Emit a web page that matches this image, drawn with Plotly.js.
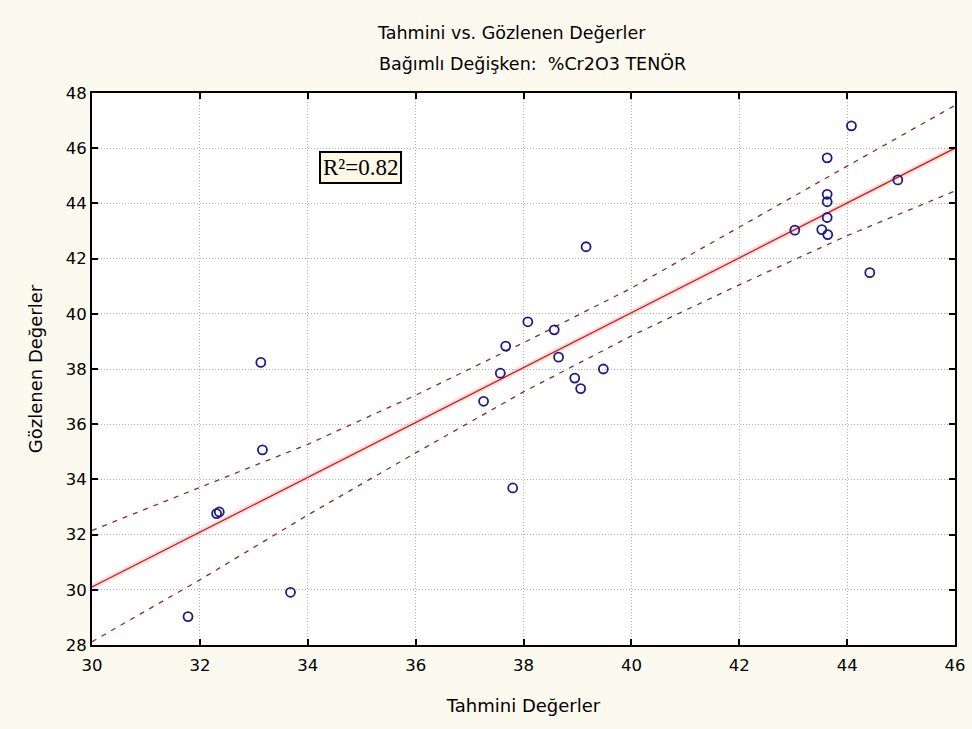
<!DOCTYPE html>
<html>
<head>
<meta charset="utf-8">
<script src="https://cdn.plot.ly/plotly-3.0.1.min.js"></script>
<style>
  html, body { margin: 0; padding: 0; background: #fcf9ee; }
  #chart { width: 972px; height: 729px; }
</style>
</head>
<body>
<div id="chart"></div>
<script>
// Observed vs predicted points
const predicted = [31.78, 32.31, 32.36, 33.13, 33.16, 33.68, 37.26, 37.57, 37.67, 37.80, 38.08, 38.57, 38.65, 38.95, 39.06, 39.16, 39.48, 43.03, 43.53, 43.63, 43.63, 43.63, 43.63, 43.64, 44.08, 44.42, 44.94];
const observed  = [29.03, 32.76, 32.82, 38.24, 35.07, 29.91, 36.83, 37.85, 38.83, 33.69, 39.71, 39.42, 38.43, 37.67, 37.29, 42.43, 38.00, 43.03, 43.05, 45.65, 44.33, 44.06, 43.49, 42.87, 46.81, 41.49, 44.85];

// Regression line (end points)
const fitX = [30, 46];
const fitY = [30.1, 46.0];

// Confidence bands read at the x gridlines
const bandX = [30, 32, 34, 36, 38, 40, 42, 44, 46];
const bandUpper = [32.15, 33.72, 35.27, 37.05, 38.95, 40.93, 43.15, 45.35, 47.55];
const bandLower = [28.12, 30.36, 32.71, 34.96, 37.17, 39.20, 41.05, 42.83, 44.45];

const titleLine1 = "Tahmini vs. Gözlenen Değerler";
const titleLine2 = "Bağımlı Değişken:  %Cr2O3 TENÖR";
const xTitle = "Tahmini Değerler";
const yTitle = "Gözlenen Değerler";
const r2Label = "R²=0.82";

const font = "DejaVu Sans, Verdana, sans-serif";

const traces = [
  {
    x: fitX, y: fitY, type: "scatter", mode: "lines",
    line: { color: "rgba(255,170,170,0.35)", width: 6 }, hoverinfo: "skip"
  },
  {
    x: bandX, y: bandUpper, type: "scatter", mode: "lines",
    line: { color: "#8e2a2a", width: 1.3, dash: "5px,6px" }, hoverinfo: "skip"
  },
  {
    x: bandX, y: bandLower, type: "scatter", mode: "lines",
    line: { color: "#8e2a2a", width: 1.3, dash: "5px,6px" }, hoverinfo: "skip"
  },
  {
    x: fitX, y: fitY, type: "scatter", mode: "lines",
    line: { color: "#c82020", width: 1.3 }, hoverinfo: "skip"
  },
  {
    x: predicted, y: observed, type: "scatter", mode: "markers",
    marker: { symbol: "circle-open", size: 9, color: "#1c1c86", line: { width: 1.8, color: "#1c1c86" } }
  }
];

const axisCommon = {
  showline: true, linecolor: "#000", linewidth: 2, mirror: "ticks",
  ticks: "inside", ticklen: 6, tickwidth: 2, tickcolor: "#000",
  showgrid: true, gridcolor: "#b0b0b0", griddash: "1px,2px", gridwidth: 1,
  zeroline: false, tickfont: { family: font, size: 16.5, color: "#000" }
};

const layout = {
  width: 972, height: 729,
  paper_bgcolor: "#fcf9ee", plot_bgcolor: "#ffffff",
  showlegend: false,
  margin: { l: 92, r: 17, t: 93, b: 84 },
  xaxis: Object.assign({}, axisCommon, {
    range: [30, 46], dtick: 2, tick0: 30, ticklabelstandoff: 4,
    title: { text: xTitle, font: { family: font, size: 18, color: "#000" }, standoff: 26 }
  }),
  yaxis: Object.assign({}, axisCommon, {
    range: [28, 48], dtick: 2, tick0: 28,
    title: { text: yTitle, font: { family: font, size: 18, color: "#000" }, standoff: 18 }
  }),
  annotations: [
    { text: titleLine1, xref: "paper", yref: "paper", x: 0.486, y: 1.0, yshift: 60,
      xanchor: "center", yanchor: "middle", showarrow: false,
      font: { family: font, size: 17.5, color: "#000" } },
    { text: titleLine2, xref: "paper", yref: "paper", x: 0.51, y: 1.0, yshift: 30,
      xanchor: "center", yanchor: "middle", showarrow: false,
      font: { family: font, size: 17.5, color: "#000" } },
    { text: r2Label, xref: "x", yref: "y", x: 34.97, y: 45.3,
      xanchor: "center", yanchor: "middle", showarrow: false,
      font: { family: "Liberation Serif, Times New Roman, serif", size: 23, color: "#000" },
      bgcolor: "#fdf8e6", bordercolor: "#000", borderwidth: 2, borderpad: 2 }
  ]
};

Plotly.newPlot("chart", traces, layout, { displayModeBar: false, staticPlot: true });
</script>
</body>
</html>
